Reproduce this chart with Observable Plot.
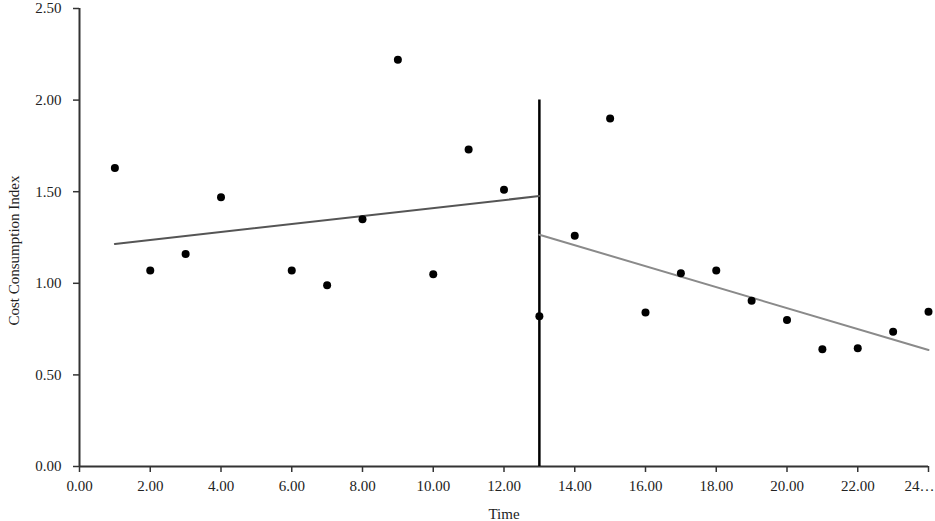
<!DOCTYPE html>
<html>
<head>
<meta charset="utf-8">
<script src="https://cdn.jsdelivr.net/npm/d3@7"></script>
<script src="https://cdn.jsdelivr.net/npm/@observablehq/plot@0.6"></script>
<style>
  html, body { margin: 0; padding: 0; background: #fff; }
</style>
</head>
<body>
<div id="chart"></div>
<script>
// Observed data
const time = [1,2,3,4,6,7,8,9,10,11,12,13,14,15,16,17,18,19,20,21,22,23,24];
const index = [1.63,1.07,1.16,1.47,1.07,0.99,1.35,2.22,1.05,1.73,1.51,0.82,1.26,1.90,0.84,1.055,1.07,0.905,0.80,0.64,0.645,0.735,0.845];

// Fitted trend lines (phase 1 and phase 2 endpoints)
const trend1Time = [1, 13];
const trend1Value = [1.215, 1.476];
const trend2Time = [13, 24];
const trend2Value = [1.265, 0.636];

// Phase change line
const phaseTime = [13];
const phaseTop = [2.0];

// Tick values
const xTicks = [0,2,4,6,8,10,12,14,16,18,20,22];
const xLastTick = [24];
const yTicks = [0,0.5,1,1.5,2,2.5];
const yLabel = ["Cost Consumption Index"];

const points = time.map((t, i) => ({t, v: index[i]}));
const trend1 = trend1Time.map((t, i) => ({t, v: trend1Value[i]}));
const trend2 = trend2Time.map((t, i) => ({t, v: trend2Value[i]}));
const phase = phaseTime.map((t, i) => ({t, y1: 0, y2: phaseTop[i]}));

const FS = 15;
const chart = Plot.plot({
  width: 935,
  height: 521,
  marginLeft: 79,
  marginRight: 7,
  marginTop: 8,
  marginBottom: 55,
  style: {fontFamily: "'Liberation Serif', 'Times New Roman', serif", fontSize: "15px", color: "#222", background: "#fff"},
  x: {type: "linear", domain: [0, 24]},
  y: {type: "linear", domain: [0, 2.5]},
  marks: [
    Plot.axisY({ticks: yTicks, tickSize: 6, tickPadding: 12, fontSize: FS, tickFormat: d => d.toFixed(2), label: null, stroke: "#333", strokeWidth: 1.5}),
    Plot.text(yLabel, {frameAnchor: "left", text: d => d, rotate: -90, textAnchor: "middle", lineAnchor: "middle", dx: -65, dy: 13, fontSize: FS, fill: "#222"}),
    Plot.axisX({ticks: xTicks, tickSize: 6, tickPadding: 8, fontSize: FS, tickFormat: d => d.toFixed(2), label: "Time", labelAnchor: "center", labelArrow: "none", labelOffset: 52, stroke: "#333", strokeWidth: 1.5}),
    Plot.axisX({ticks: xLastTick, tickSize: 6, fontSize: FS, tickFormat: () => "", label: null, stroke: "#333", strokeWidth: 1.5}),
    Plot.text(xLastTick, {x: d => d, y: 0, text: d => String(d) + "…", textAnchor: "end", lineAnchor: "top", dx: 6, dy: 14, fontSize: FS, fill: "#222"}),
    Plot.ruleY([0], {stroke: "#333", strokeWidth: 2}),
    Plot.ruleX([0], {stroke: "#333", strokeWidth: 2}),
    Plot.ruleX(phase, {x: "t", y1: "y1", y2: "y2", stroke: "#000", strokeWidth: 2.5}),
    Plot.line(trend1, {x: "t", y: "v", stroke: "#555", strokeWidth: 2}),
    Plot.line(trend2, {x: "t", y: "v", stroke: "#8a8a8a", strokeWidth: 2}),
    Plot.dot(points, {x: "t", y: "v", r: 4, fill: "#000", stroke: null})
  ]
});
document.getElementById("chart").appendChild(chart);
</script>
</body>
</html>
